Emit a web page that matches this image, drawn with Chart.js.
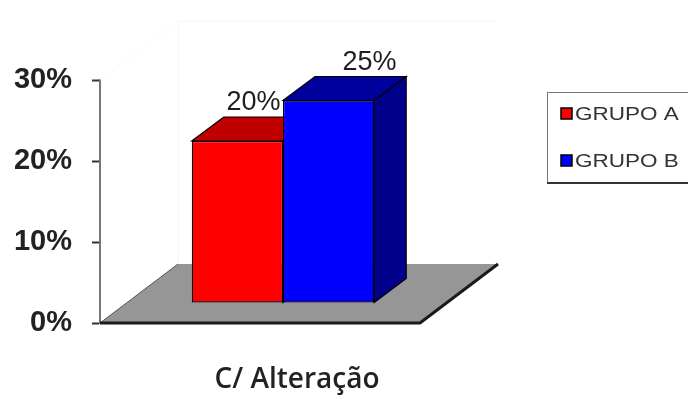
<!DOCTYPE html>
<html>
<head>
<meta charset="utf-8">
<script src="https://cdn.jsdelivr.net/npm/chart.js@4"></script>
<style>
  html, body { margin: 0; padding: 0; background: #fff; }
  #wrap { width: 688px; height: 397px; position: relative; }
</style>
</head>
<body>
<div id="wrap"><canvas id="chart"></canvas></div>
<script>
const categories = ["C/ Alteração"];
const groupNames = ["GRUPO A", "GRUPO B"];
const grupoA = [20];
const grupoB = [25];
const yTicks = [0, 10, 20, 30];

// 3d look: front faces are pushed back onto the floor, then given a depth
const SHIFT = [23, -20];
const DEPTH = [32, -24];
const FLOOR = [78, -59];
const faceColors = [
    { front: "#FF0000", top: "#C00000", side: "#A00000" },
    { front: "#0000FF", top: "#00009C", side: "#00008A" },
];
const labelNudge = [0, 25];

const poly = (ctx, pts, fill) => {
    ctx.beginPath();
    ctx.moveTo(pts[0][0], pts[0][1]);
    pts.slice(1).forEach((p) => ctx.lineTo(p[0], p[1]));
    ctx.closePath();
    ctx.fillStyle = fill;
    ctx.fill();
    ctx.lineWidth = 1.2;
    ctx.strokeStyle = "#000";
    ctx.stroke();
};

const barBox = (chart, i) => {
    const bar = chart.getDatasetMeta(i).data[0];
    const { x, y, base, width } = bar.getProps(["x", "y", "base", "width"], true);
    return {
        l: x - width / 2 + SHIFT[0],
        r: x + width / 2 + SHIFT[0],
        t: y + SHIFT[1],
        b: base + SHIFT[1],
    };
};

const depth3d = {
    id: "depth3d",
    beforeDatasetsDraw(chart) {
        const { ctx, chartArea: a, scales } = chart;
        const y0 = scales.y.getPixelForValue(0);
        const yTop = scales.y.getPixelForValue(30);

        ctx.save();
        // faint back wall outline
        ctx.strokeStyle = "#ececec";
        ctx.lineWidth = 1;
        ctx.setLineDash([1, 2]);
        ctx.beginPath();
        ctx.moveTo(a.left, yTop);
        ctx.lineTo(a.left + FLOOR[0], yTop + FLOOR[1]);
        ctx.stroke();
        ctx.setLineDash([]);
        ctx.strokeStyle = "#f6f6f6";
        ctx.beginPath();
        ctx.moveTo(a.left + FLOOR[0], yTop + FLOOR[1]);
        ctx.lineTo(a.right + FLOOR[0], yTop + FLOOR[1]);
        ctx.moveTo(a.left + FLOOR[0], yTop + FLOOR[1]);
        ctx.lineTo(a.left + FLOOR[0], y0 + FLOOR[1]);
        ctx.stroke();

        // floor
        ctx.beginPath();
        ctx.moveTo(a.left, y0);
        ctx.lineTo(a.right, y0);
        ctx.lineTo(a.right + FLOOR[0], y0 + FLOOR[1]);
        ctx.lineTo(a.left + FLOOR[0], y0 + FLOOR[1]);
        ctx.closePath();
        ctx.fillStyle = "#969696";
        ctx.fill();
        ctx.strokeStyle = "#555";
        ctx.lineWidth = 1;
        ctx.beginPath();
        ctx.moveTo(a.left, y0);
        ctx.lineTo(a.left + FLOOR[0], y0 + FLOOR[1]);
        ctx.stroke();
        ctx.strokeStyle = "#1a1a1a";
        ctx.lineWidth = 3;
        ctx.beginPath();
        ctx.moveTo(a.left, y0);
        ctx.lineTo(a.right, y0);
        ctx.lineTo(a.right + FLOOR[0], y0 + FLOOR[1]);
        ctx.stroke();

        // tops and sides
        chart.data.datasets.forEach((ds, i) => {
            const { l, r, t, b } = barBox(chart, i);
            const c = faceColors[i];
            poly(ctx, [[l, t], [r, t], [r + DEPTH[0], t + DEPTH[1]], [l + DEPTH[0], t + DEPTH[1]]], c.top);
            poly(ctx, [[r, t], [r + DEPTH[0], t + DEPTH[1]], [r + DEPTH[0], b + DEPTH[1]], [r, b]], c.side);
        });
        ctx.restore();

        ctx.save();
        ctx.translate(SHIFT[0], SHIFT[1]);
    },
    afterDatasetsDraw(chart) {
        const ctx = chart.ctx;
        ctx.restore();

        ctx.save();
        ctx.font = "27px 'Liberation Sans', Arial";
        ctx.fillStyle = "#1e1e1e";
        ctx.textAlign = "center";
        ctx.textBaseline = "alphabetic";
        chart.data.datasets.forEach((ds, i) => {
            const { l, r, t } = barBox(chart, i);
            const cx = (l + r) / 2 + DEPTH[0] / 2 + labelNudge[i];
            ctx.fillText(ds.data[0] + "%", cx, t + DEPTH[1] - 7);
        });
        ctx.restore();
    },
    afterDraw(chart) {
        const ctx = chart.ctx;
        ctx.save();
        // legend box
        ctx.strokeStyle = "#777";
        ctx.lineWidth = 1;
        ctx.strokeRect(547.5, 92.5, 160, 90);
        ctx.strokeStyle = "#333";
        ctx.lineWidth = 2;
        ctx.beginPath();
        ctx.moveTo(547, 183);
        ctx.lineTo(688, 183);
        ctx.stroke();

        chart.data.datasets.forEach((ds, i) => {
            const yc = 114 + i * 47;
            ctx.fillStyle = faceColors[i].front;
            ctx.fillRect(561, yc - 6, 11, 11);
            ctx.strokeStyle = "#000";
            ctx.lineWidth = 1.5;
            ctx.strokeRect(561, yc - 6, 11, 11);

            ctx.save();
            ctx.translate(575, yc);
            ctx.scale(1.25, 1);
            ctx.font = "18px 'Liberation Sans', Arial";
            ctx.fillStyle = "#333";
            ctx.textBaseline = "middle";
            ctx.fillText(ds.label, 0, 1);
            ctx.restore();
        });
        ctx.restore();
    },
};

new Chart(document.getElementById("chart"), {
    type: "bar",
    data: {
        labels: categories,
        datasets: [
            {
                label: groupNames[0],
                data: grupoA,
                backgroundColor: faceColors[0].front,
                borderColor: "#000",
                borderWidth: 1.2,
                borderSkipped: false,
            },
            {
                label: groupNames[1],
                data: grupoB,
                backgroundColor: faceColors[1].front,
                borderColor: "#000",
                borderWidth: 1.2,
                borderSkipped: false,
            },
        ],
    },
    options: {
        responsive: true,
        maintainAspectRatio: false,
        animation: false,
        categoryPercentage: 0.57,
        barPercentage: 1,
        layout: {
            padding: { top: 80, right: 268, left: 0, bottom: 0 },
        },
        scales: {
            x: {
                grid: { display: false },
                border: { display: false },
                ticks: {
                    color: "#222",
                    padding: 32,
                    labelOffset: 37,
                    font: { family: "'Open Sans', sans-serif", size: 28, weight: "600" },
                },
                afterFit: (scale) => { scale.height = 74; },
            },
            y: {
                min: 0,
                max: 30,
                afterBuildTicks: (scale) => {
                    scale.ticks = yTicks.map((v) => ({ value: v }));
                },
                grid: {
                    drawOnChartArea: false,
                    drawTicks: true,
                    tickLength: 8,
                    tickWidth: 2,
                    tickColor: "#333",
                },
                border: { display: true, color: "#777", width: 2 },
                ticks: {
                    color: "#222",
                    padding: 20,
                    font: { family: "'Liberation Sans', Arial", size: 29, weight: "bold" },
                    callback: (v) => v + "%",
                },
                afterFit: (scale) => { scale.width = 100; },
            },
        },
        plugins: {
            legend: { display: false },
            tooltip: { enabled: false },
        },
    },
    plugins: [depth3d],
});
</script>
</body>
</html>
